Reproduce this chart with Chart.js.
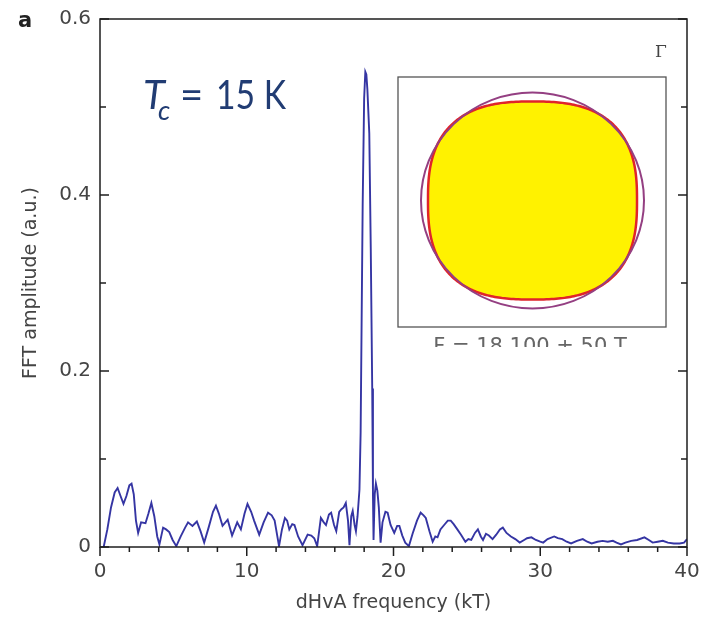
<!DOCTYPE html>
<html>
<head>
<meta charset="utf-8">
<script src="https://cdn.jsdelivr.net/npm/chart.js@4.4.1/dist/chart.umd.min.js"></script>
<style>
  html, body { margin: 0; padding: 0; background: #fff; }
  #wrap { width: 702px; height: 618px; }
</style>
</head>
<body>
<div id="wrap"><canvas id="chart" width="702" height="618"></canvas></div>
<script>
// dHvA FFT spectrum
const freqKT = [
  0.25, 0.5, 0.75, 1.0, 1.2, 1.4, 1.6, 1.8, 2.0, 2.15, 2.3, 2.45, 2.6, 2.8, 3.1, 3.3, 3.5, 3.7, 3.9, 4.05,
  4.3, 4.5, 4.72, 4.95, 5.2, 5.5, 5.8, 6.0, 6.3, 6.6, 6.85, 7.1, 7.4, 7.7, 7.9, 8.1, 8.35, 8.7, 9.0, 9.35,
  9.6, 9.85, 10.05, 10.3, 10.5, 10.85, 11.15, 11.45, 11.7, 11.9, 12.2, 12.4, 12.6, 12.75, 12.9, 13.1, 13.25, 13.5, 13.8, 14.15,
  14.4, 14.6, 14.8, 15.05, 15.25, 15.4, 15.6, 15.75, 15.95, 16.1, 16.3, 16.45, 16.6, 16.75, 16.9, 17.0, 17.12, 17.22, 17.35, 17.44,
  17.55, 17.68, 17.76, 17.83, 17.9, 18.0, 18.08, 18.15, 18.22, 18.35, 18.45, 18.55, 18.6, 18.64, 18.72, 18.8, 18.9, 19.0, 19.12, 19.25,
  19.45, 19.6, 19.8, 20.05, 20.25, 20.4, 20.6, 20.8, 21.05, 21.3, 21.6, 21.85, 22.05, 22.2, 22.45, 22.67, 22.85, 23.0, 23.2, 23.45,
  23.7, 23.9, 24.1, 24.35, 24.6, 24.9, 25.1, 25.3, 25.55, 25.75, 25.95, 26.1, 26.3, 26.5, 26.75, 27.0, 27.25, 27.45, 27.7, 28.0,
  28.3, 28.6, 28.9, 29.1, 29.4, 29.7, 30.0, 30.2, 30.5, 30.95, 31.2, 31.5, 31.8, 32.1, 32.5, 32.9, 33.2, 33.5, 33.9, 34.25,
  34.6, 34.95, 35.2, 35.5, 35.8, 36.2, 36.6, 37.1, 37.4, 37.66, 38.0, 38.35, 38.7, 39.1, 39.5, 39.8, 40.0
]
const fftAmplitude = [
  0.0, 0.02, 0.045, 0.062, 0.067, 0.058, 0.049, 0.058, 0.07, 0.072, 0.06, 0.03, 0.016, 0.028, 0.027, 0.038, 0.05, 0.035, 0.012, 0.003,
  0.022, 0.02, 0.017, 0.008, 0.001, 0.012, 0.022, 0.028, 0.024, 0.029, 0.018, 0.005, 0.022, 0.04, 0.047, 0.038, 0.024, 0.031, 0.013, 0.028,
  0.02, 0.038, 0.049, 0.04, 0.03, 0.014, 0.028, 0.039, 0.036, 0.03, 0.001, 0.02, 0.033, 0.03, 0.02, 0.026, 0.025, 0.012, 0.002, 0.014,
  0.013, 0.01, 0.001, 0.033, 0.028, 0.025, 0.037, 0.039, 0.025, 0.018, 0.04, 0.043, 0.045, 0.05, 0.03, 0.002, 0.035, 0.041, 0.025, 0.018,
  0.035, 0.065, 0.13, 0.26, 0.39, 0.51, 0.54, 0.537, 0.52, 0.47, 0.34, 0.18, 0.06, 0.008, 0.06, 0.072, 0.064, 0.045, 0.005, 0.028,
  0.04, 0.039, 0.025, 0.016, 0.024, 0.024, 0.013, 0.005, 0.001, 0.015, 0.03, 0.039, 0.036, 0.033, 0.018, 0.006, 0.012, 0.011, 0.02, 0.025,
  0.03, 0.03, 0.026, 0.02, 0.014, 0.006, 0.009, 0.008, 0.016, 0.02, 0.012, 0.008, 0.015, 0.013, 0.009, 0.014, 0.02, 0.022, 0.016, 0.012,
  0.009, 0.005, 0.008, 0.01, 0.011, 0.008, 0.006, 0.005, 0.009, 0.012, 0.01, 0.009, 0.006, 0.004, 0.007, 0.009, 0.006, 0.004, 0.006, 0.007,
  0.006, 0.007, 0.005, 0.003, 0.005, 0.007, 0.008, 0.011, 0.008, 0.005, 0.006, 0.007, 0.005, 0.004, 0.004, 0.005, 0.009
]

const xMajorTicks = [0, 10, 20, 30, 40]
const xMinorTicks = [2, 4, 6, 8, 12, 14, 16, 18, 22, 24, 26, 28, 32, 34, 36, 38]
const yMajorTicks = [0, 0.2, 0.4, 0.6]
const yMinorTicks = [0.1, 0.3, 0.5]

const axisFont = { family: 'DejaVu Sans', size: 20 }
const titleFont = { family: 'DejaVu Sans', size: 19 }
const textColor = '#444'

const points = freqKT.map((f, i) => ({ x: f, y: fftAmplitude[i] }))

// squircle outline for the inset
function superellipse(ctx, cx, cy, a, b, n) {
  ctx.beginPath()
  for (let i = 0; i <= 360; i++) {
    const t = i * Math.PI / 180
    const c = Math.cos(t), s = Math.sin(t)
    const px = cx + a * Math.sign(c) * Math.pow(Math.abs(c), 2 / n)
    const py = cy + b * Math.sign(s) * Math.pow(Math.abs(s), 2 / n)
    if (i === 0) ctx.moveTo(px, py)
    else ctx.lineTo(px, py)
  }
  ctx.closePath()
}

// frame, tick marks, inset and labels
const decorations = {
  id: 'decorations',
  afterDatasetsDraw(chart) {
    const { ctx, chartArea: a, scales: { x, y } } = chart
    ctx.save()

    // frame
    ctx.strokeStyle = '#1e1e1e'
    ctx.lineWidth = 1.5
    ctx.strokeRect(a.left, a.top, a.right - a.left, a.bottom - a.top)

    // x ticks (outward)
    ctx.beginPath()
    for (const v of xMajorTicks) {
      const px = x.getPixelForValue(v)
      ctx.moveTo(px, a.bottom); ctx.lineTo(px, a.bottom + 9)
    }
    for (const v of xMinorTicks) {
      const px = x.getPixelForValue(v)
      ctx.moveTo(px, a.bottom); ctx.lineTo(px, a.bottom + 5)
    }
    // y ticks (inward, both sides)
    for (const v of yMajorTicks) {
      const py = y.getPixelForValue(v)
      ctx.moveTo(a.left, py); ctx.lineTo(a.left + 9, py)
      ctx.moveTo(a.right, py); ctx.lineTo(a.right - 9, py)
    }
    for (const v of yMinorTicks) {
      const py = y.getPixelForValue(v)
      ctx.moveTo(a.left, py); ctx.lineTo(a.left + 6, py)
      ctx.moveTo(a.right, py); ctx.lineTo(a.right - 6, py)
    }
    ctx.stroke()

    // panel letter
    ctx.fillStyle = '#222'
    ctx.font = 'bold 21px "DejaVu Sans"'
    ctx.textBaseline = 'alphabetic'
    ctx.textAlign = 'left'
    ctx.fillText('a', 18, 27)

    // T_c label
    ctx.fillStyle = '#213c73'
    ctx.font = 'italic 40px Lato'
    ctx.fillText('T', 143, 109)
    ctx.font = 'italic 27px Lato'
    ctx.fillText('c', 158, 120)
    ctx.font = '40px Lato'
    ctx.fillText('=', 180, 109)
    ctx.save()
    ctx.translate(216, 109)
    const w = ctx.measureText('15 K').width
    ctx.scale(70 / w, 1)
    ctx.fillText('15 K', 0, 0)
    ctx.restore()

    // inset: Fermi surface cross-section
    const bx = 398, by = 77, bw = 268, bh = 250
    ctx.fillStyle = '#fff'
    ctx.fillRect(bx, by, bw, bh)
    ctx.strokeStyle = '#555'
    ctx.lineWidth = 1.3
    ctx.strokeRect(bx, by, bw, bh)

    superellipse(ctx, 532.5, 200.5, 104.5, 99, 2.65)
    ctx.fillStyle = '#fff200'
    ctx.fill()
    ctx.strokeStyle = '#e0242a'
    ctx.lineWidth = 2.5
    ctx.stroke()

    ctx.beginPath()
    ctx.ellipse(532.5, 200.5, 111.5, 108, 0, 0, Math.PI * 2)
    ctx.strokeStyle = '#943f82'
    ctx.lineWidth = 2
    ctx.stroke()

    // clipped caption under the inset
    ctx.save()
    ctx.beginPath()
    ctx.rect(bx, by + bh + 1, bw, 19)
    ctx.clip()
    ctx.fillStyle = '#666'
    ctx.font = '21px "DejaVu Sans"'
    ctx.textAlign = 'center'
    ctx.fillText('F = 18,100 ± 50 T', 530, 353)
    ctx.restore()

    ctx.fillStyle = '#444'
    ctx.font = '17px "DejaVu Serif"'
    ctx.textAlign = 'center'
    ctx.fillText('Γ', 661, 57)

    ctx.restore()
  }
}

new Chart(document.getElementById('chart'), {
  type: 'line',
  data: {
    datasets: [{
      data: points,
      borderColor: '#3535a3',
      borderWidth: 1.9,
      pointRadius: 0,
      tension: 0,
      fill: false
    }]
  },
  options: {
    responsive: false,
    animation: false,
    layout: { padding: { top: 19, right: 15, left: 0, bottom: 0 } },
    plugins: { legend: { display: false }, tooltip: { enabled: false } },
    scales: {
      x: {
        type: 'linear',
        min: 0,
        max: 40,
        grid: { display: false, drawTicks: false },
        border: { display: false },
        ticks: {
          stepSize: 10,
          padding: 13,
          color: textColor,
          font: axisFont,
          maxRotation: 0
        },
        title: {
          display: true,
          text: 'dHvA frequency (kT)',
          color: textColor,
          font: titleFont,
          padding: { top: 0, bottom: 4 }
        },
        afterFit(scale) {
          scale.height = 71
          scale.paddingLeft = 0
          scale.paddingRight = 0
        }
      },
      y: {
        min: 0,
        max: 0.6,
        grid: { display: false, drawTicks: false },
        border: { display: false },
        ticks: {
          stepSize: 0.1,
          padding: 9,
          color: textColor,
          font: axisFont,
          callback: (v) => {
            const k = Math.round(v * 10)
            if (k % 2 !== 0) return ''
            return k === 0 ? '0' : (k / 10).toFixed(1)
          }
        },
        title: {
          display: true,
          text: 'FFT amplitude (a.u.)',
          color: textColor,
          font: titleFont,
          padding: { top: 20, bottom: 0 }
        },
        afterFit(scale) {
          scale.width = 100
          scale.paddingTop = 0
          scale.paddingBottom = 0
        }
      }
    }
  },
  plugins: [decorations]
})
</script>
</body>
</html>
